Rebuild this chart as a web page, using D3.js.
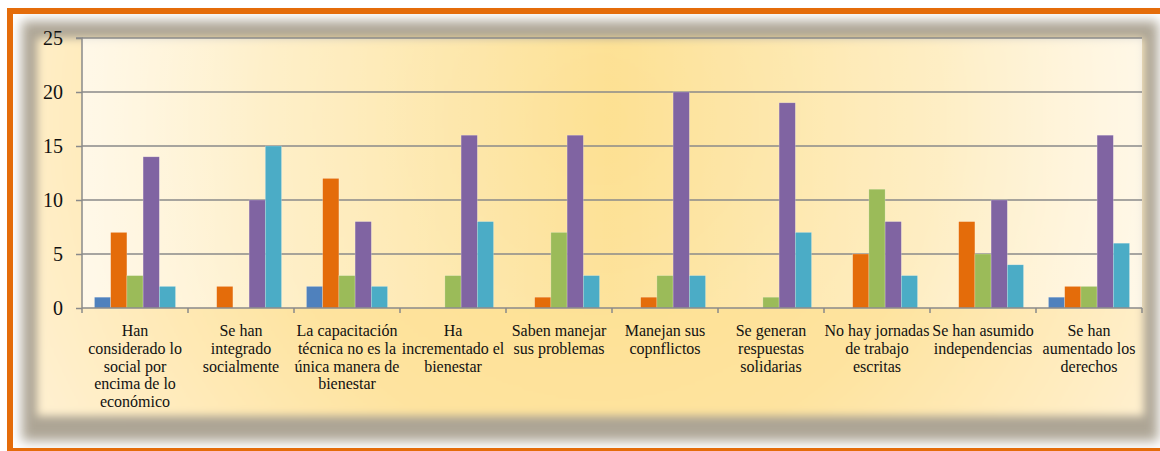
<!DOCTYPE html>
<html><head><meta charset="utf-8">
<script src="https://cdn.jsdelivr.net/npm/d3@7"></script>
<style>html,body{margin:0;padding:0;background:#fff;}svg{display:block;}
.serif{font-family:"Liberation Serif","Times New Roman",serif;}</style>
</head><body>
<svg id="c" width="1160" height="451"></svg>
<script>
const categories = [
  ["Han","considerado lo","social por","encima de lo","económico"],
  ["Se han","integrado","socialmente"],
  ["La capacitación","técnica no es la","única manera de","bienestar"],
  ["Ha","incrementado el","bienestar"],
  ["Saben manejar","sus problemas"],
  ["Manejan sus","copnflictos"],
  ["Se generan","respuestas","solidarias"],
  ["No hay jornadas","de trabajo","escritas"],
  ["Se han asumido","independencias"],
  ["Se han","aumentado los","derechos"]
];
const series1 = [1,0,2,0,0,0,0,0,0,1];
const series2 = [7,2,12,0,1,1,0,5,8,2];
const series3 = [3,0,3,3,7,3,1,11,5,2];
const series4 = [14,10,8,16,16,20,19,8,10,16];
const series5 = [2,15,2,8,3,3,7,3,4,6];
const seriesColors = ["#4F81BD","#E46C0A","#9BBB59","#8064A2","#4BACC6"];
const yTicks = [0,5,10,15,20,25];

const allSeries = [series1,series2,series3,series4,series5];
const svg = d3.select("#c");
const defs = svg.append("defs");

defs.append("filter").attr("id","blurS").attr("x","-10%").attr("y","-10%").attr("width","120%").attr("height","120%")
  .append("feGaussianBlur").attr("stdDeviation",6);
defs.append("filter").attr("id","blurY").attr("x","-10%").attr("y","-10%").attr("width","120%").attr("height","120%")
  .append("feGaussianBlur").attr("stdDeviation",4);
const rg = defs.append("radialGradient").attr("id","panelG")
  .attr("gradientUnits","userSpaceOnUse").attr("cx",600).attr("cy",120).attr("r",620);
rg.append("stop").attr("offset","0%").attr("stop-color","#fddf8c");
rg.append("stop").attr("offset","55%").attr("stop-color","#fee39f");
rg.append("stop").attr("offset","100%").attr("stop-color","#fff0cf");
const lg = defs.append("linearGradient").attr("id","plotG").attr("x1","0").attr("x2","1").attr("y1","0").attr("y2","0");
lg.append("stop").attr("offset","0%").attr("stop-color","#fff").attr("stop-opacity",0.65);
lg.append("stop").attr("offset","50%").attr("stop-color","#fff").attr("stop-opacity",0.05);
lg.append("stop").attr("offset","100%").attr("stop-color","#fff").attr("stop-opacity",0.6);

svg.append("rect").attr("x",0).attr("y",0).attr("width",1160).attr("height",451).attr("fill","#fff");
svg.append("rect").attr("x",22).attr("y",21).attr("width",1136).attr("height",420).attr("fill","#ada595").attr("filter","url(#blurS)");
svg.append("rect").attr("x",37).attr("y",38).attr("width",1107).attr("height",378).attr("fill","url(#panelG)").attr("filter","url(#blurY)");
svg.append("rect").attr("x",7).attr("y",8).attr("width",1153).attr("height",6).attr("fill","#E46C0A");
svg.append("rect").attr("x",7).attr("y",8).attr("width",6).attr("height",443).attr("fill","#E46C0A");
svg.append("rect").attr("x",7).attr("y",448).attr("width",1153).attr("height",3).attr("fill","#E46C0A");

const L = 82, R = 1142, T = 38, B = 308;
const x0 = d3.scaleBand().domain(d3.range(categories.length)).range([L,R]).paddingInner(0).paddingOuter(0);
const x1 = d3.scaleBand().domain(d3.range(allSeries.length)).range([0,x0.bandwidth()]).paddingInner(0).paddingOuter(0.77);
const y = d3.scaleLinear().domain([0,25]).range([B,T]);

svg.append("rect").attr("x",L).attr("y",T).attr("width",R-L).attr("height",B-T).attr("fill","url(#plotG)");

svg.append("g").selectAll("line").data(yTicks.filter(d=>d>0)).join("line")
  .attr("x1",L).attr("x2",R).attr("y1",d=>y(d)).attr("y2",d=>y(d))
  .attr("stroke","#8a8a8a").attr("stroke-width",1.5);

const gBars = svg.append("g");
allSeries.forEach((s,si)=>{
  gBars.append("g").selectAll("rect").data(s).join("rect")
    .attr("x",(d,i)=>x0(i)+x1(si))
    .attr("width",x1.bandwidth())
    .attr("y",d=>y(d))
    .attr("height",d=>B-y(d))
    .attr("fill",seriesColors[si])
    .attr("stroke","rgba(255,255,255,0.35)").attr("stroke-width",0.6);
});

const yAxis = d3.axisLeft(y).tickValues(yTicks).tickSize(6).tickPadding(13);
const gy = svg.append("g").attr("transform",`translate(${L},0)`).call(yAxis);
gy.attr("font-family",null).attr("font-size",null);
gy.select(".domain").attr("stroke","#8a8a8a").attr("stroke-width",1.5).attr("d",`M-6,${T}H0V${B}`);
gy.selectAll(".tick line").attr("stroke","#8a8a8a").attr("stroke-width",1.5);
gy.selectAll(".tick text").attr("class","serif").style("font-size","20px").attr("fill","#111");

const boundaries = d3.range(categories.length+1).map(i=> i<categories.length ? x0(i) : R);
svg.append("line").attr("x1",L).attr("x2",R).attr("y1",B).attr("y2",B).attr("stroke","#8a8a8a").attr("stroke-width",1.5);
svg.append("g").selectAll("line").data(boundaries).join("line")
  .attr("x1",d=>d).attr("x2",d=>d).attr("y1",B).attr("y2",B+5)
  .attr("stroke","#8a8a8a").attr("stroke-width",1.5);

const gx = svg.append("g");
categories.forEach((lines,i)=>{
  const cx = x0(i)+x0.bandwidth()/2;
  const t = gx.append("text").attr("class","serif").attr("x",cx).attr("y",336)
    .attr("text-anchor","middle").style("font-size","16px").attr("fill","#111");
  lines.forEach((ln,j)=>{
    t.append("tspan").attr("class","serif").attr("x",cx).attr("y",336+j*17.8).text(ln);
  });
});
</script>
</body></html>
